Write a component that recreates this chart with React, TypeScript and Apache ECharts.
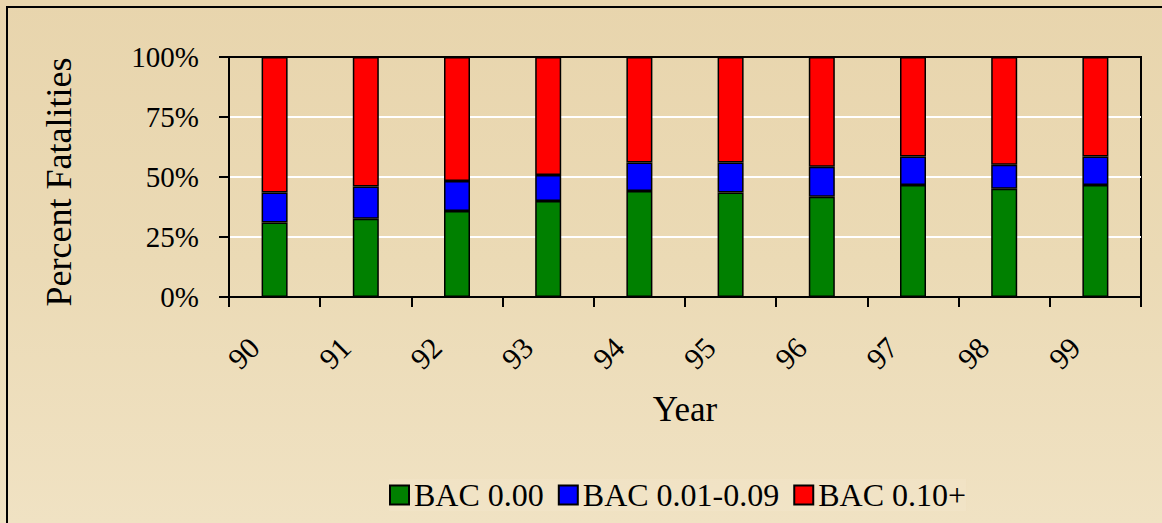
import React, { useEffect, useRef } from "react";
import * as echarts from "echarts";

const years = ["90", "91", "92", "93", "94", "95", "96", "97", "98", "99"];
const bac000 = [31.0, 32.6, 35.8, 40.0, 44.2, 43.5, 41.8, 46.7, 45.1, 46.7];
const bac001 = [12.5, 13.4, 12.5, 10.8, 11.8, 12.5, 12.5, 11.8, 10.0, 11.8];
const bac010 = [56.5, 54.0, 51.7, 49.2, 44.0, 44.0, 45.7, 41.5, 44.9, 41.5];
const seriesNames = ["BAC 0.00", "BAC 0.01-0.09", "BAC 0.10+"];
const seriesColors = ["#008000", "#0000FF", "#FF0000"];

const FONT = "'Liberation Serif', 'Times New Roman', serif";

export default function App() {
  const ref = useRef<HTMLDivElement>(null);
  useEffect(() => {
    if (!ref.current) return;
    const chart = echarts.init(ref.current, undefined, { renderer: "svg" });
    const dataSets = [bac000, bac001, bac010];
    chart.setOption({
      animation: false,
      backgroundColor: {
        type: "linear",
        x: 0,
        y: 0,
        x2: 0,
        y2: 1,
        colorStops: [
          { offset: 0, color: "#E8D5AD" },
          { offset: 0.5, color: "#EBDAB5" },
          { offset: 1, color: "#F0E2C3" },
        ],
      },
      graphic: [
        {
          type: "rect",
          shape: { x: 7, y: 7, width: 1300, height: 700 },
          style: { fill: "none", stroke: "#000", lineWidth: 2 },
          silent: true,
          z: 100,
        },
      ],
      grid: {
        left: 229,
        top: 57,
        right: 21,
        bottom: 226,
        show: true,
        borderColor: "#000",
        borderWidth: 2,
        backgroundColor: "transparent",
      },
      legend: {
        left: 389,
        top: 479,
        itemWidth: 19,
        itemHeight: 19,
        itemGap: 14,
        icon: "rect",
        backgroundColor: "rgba(255,248,230,0.12)",
        padding: [0, 0],
        textStyle: { fontFamily: FONT, fontSize: 32, color: "#000" },
        itemStyle: { borderColor: "#000", borderWidth: 2 },
        data: seriesNames,
      },
      xAxis: {
        type: "category",
        data: years,
        boundaryGap: true,
        name: "Year",
        nameLocation: "middle",
        nameGap: 95,
        nameTextStyle: { fontFamily: FONT, fontSize: 35, color: "#000" },
        axisLine: { show: true, lineStyle: { color: "#000", width: 2 } },
        axisTick: { show: true, inside: false, length: 10, alignWithLabel: false, lineStyle: { color: "#000", width: 2 } },
        axisLabel: {
          interval: 0,
          rotate: 45,
          margin: 25,
          padding: [0, 29, 0, 0],
          fontFamily: FONT,
          fontSize: 30,
          color: "#000",
        },
        splitLine: { show: false },
      },
      yAxis: {
        type: "value",
        min: 0,
        max: 100,
        interval: 25,
        name: "Percent Fatalities",
        nameLocation: "middle",
        nameGap: 152,
        nameTextStyle: { fontFamily: FONT, fontSize: 36, color: "#000", padding: [0, 10, 0, 0] },
        axisLine: { show: true, lineStyle: { color: "#000", width: 2 } },
        axisTick: { show: true, inside: false, length: 10, lineStyle: { color: "#000", width: 2 } },
        axisLabel: {
          formatter: "{value}%",
          margin: 30,
          fontFamily: FONT,
          fontSize: 29,
          color: "#000",
        },
        splitLine: {
          show: true,
          lineStyle: { color: ["#000", "#fff", "#fff", "#fff", "#000"], width: 2 },
        },
      },
      series: seriesNames.map((name, i) => ({
        name,
        type: "bar",
        stack: "total",
        barWidth: 26,
        data: dataSets[i],
        itemStyle: { color: seriesColors[i], borderColor: "#000", borderWidth: 1.5 },
      })),
    });
    return () => chart.dispose();
  }, []);
  return (
    <div
      ref={ref}
      style={{ position: "absolute", left: 0, top: 0, width: 1162, height: 523 }}
    />
  );
}
